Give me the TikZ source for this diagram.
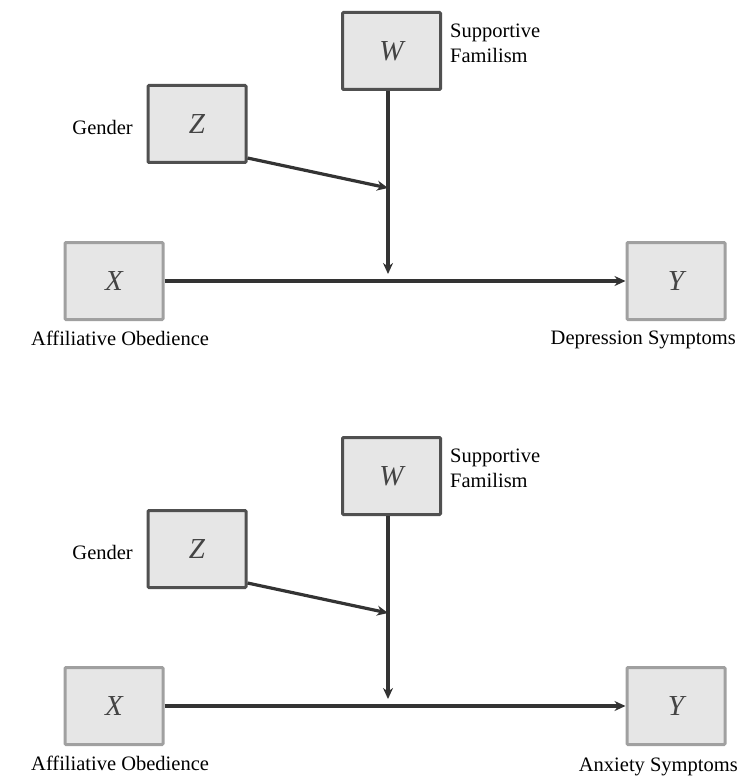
\documentclass[tikz,border=0pt]{standalone}
\usepackage{fontspec}
\setmainfont{LiberationSerif}[Extension=.ttf, UprightFont=*-Regular, ItalicFont=*-Italic, BoldFont=*-Bold]
\usetikzlibrary{arrows.meta}
\definecolor{boxfill}{HTML}{E6E6E6}
\definecolor{darkedge}{HTML}{505050}
\definecolor{lightedge}{HTML}{A0A0A0}
\definecolor{linecol}{HTML}{333333}
\definecolor{lettercol}{HTML}{444444}
\tikzset{
  varbox/.style={draw=#1, fill=boxfill, line width=3pt, minimum width=98pt, minimum height=77pt,
    inner sep=0pt, font=\fontsize{29}{30}\selectfont\itshape, text=lettercol, rounded corners=1pt},
  lbl/.style={font=\fontsize{20.5}{25}\selectfont, text=black, inner sep=0pt, align=left},
  conn/.style={draw=linecol, line width=3.2pt, -{Stealth[length=11pt,width=10pt]}},
}
\begin{document}
\begin{tikzpicture}[x=1pt,y=-1pt]
\useasboundingbox (0,0) rectangle (743,778);
% ---------- top diagram ----------
\node[varbox=darkedge] (W1) at (391.5,51) {W};
\node[varbox=darkedge] (Z1) at (197,124) {Z};
\node[varbox=lightedge] (X1) at (114,281) {X};
\node[varbox=lightedge] (Y1) at (676,281) {Y};
\coordinate (m1) at (388,188);
\coordinate (t1) at (388,274);
\node[lbl, anchor=west] (sf1) at (450,43) {Supportive\\Familism};
\node[lbl, anchor=east] (g1) at (133,127) {Gender};
\node[lbl, anchor=west] (a1) at (31,338) {Affiliative Obedience};
\node[lbl, anchor=east] (d1) at (736,340) {Depression Symptoms};
\draw[conn] (X1.east) -- (Y1.west);
\draw[conn] (W1.south -| t1) -- (t1);
\draw[conn] ([yshift=6pt]Z1.south east) -- (m1);
% ---------- bottom diagram ----------
\node[varbox=darkedge] (W2) at (391.5,476) {W};
\node[varbox=darkedge] (Z2) at (197,549) {Z};
\node[varbox=lightedge] (X2) at (114,706) {X};
\node[varbox=lightedge] (Y2) at (676,706) {Y};
\coordinate (m2) at (388,613);
\coordinate (t2) at (388,699);
\node[lbl, anchor=west] (sf2) at (450,468) {Supportive\\Familism};
\node[lbl, anchor=east] (g2) at (133,552) {Gender};
\node[lbl, anchor=west] (a2) at (31,763) {Affiliative Obedience};
\node[lbl, anchor=east] (d2) at (738,767) {Anxiety Symptoms};
\draw[conn] (X2.east) -- (Y2.west);
\draw[conn] (W2.south -| t2) -- (t2);
\draw[conn] ([yshift=6pt]Z2.south east) -- (m2);
\end{tikzpicture}
\end{document}
